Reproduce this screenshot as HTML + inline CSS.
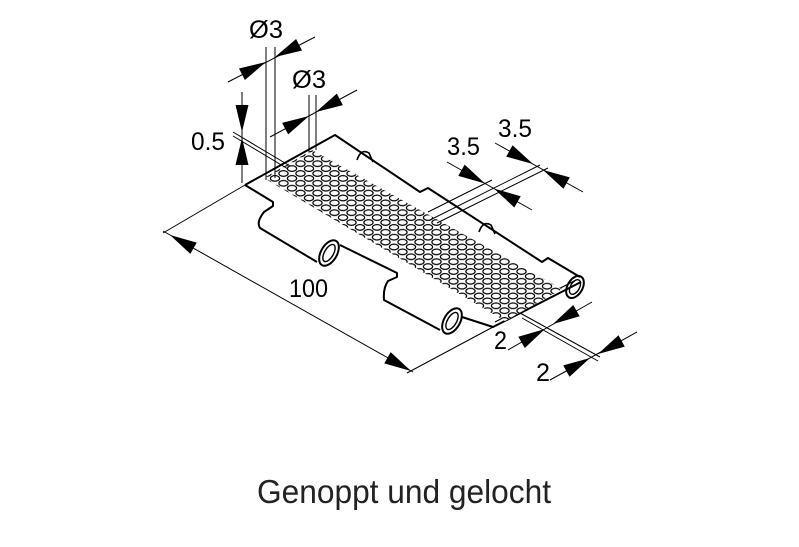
<!DOCTYPE html>
<html><head><meta charset="utf-8"><style>html,body{margin:0;padding:0;background:#fff}svg{display:block}</style></head>
<body>
<svg width="799" height="547" viewBox="0 0 799 547" xmlns="http://www.w3.org/2000/svg">
<defs>
<path id="ar" d="M0 0 L-27 -6.5 L-27 6.5Z" fill="#000"/>
<pattern id="holes" patternUnits="userSpaceOnUse" width="17" height="9.8" x="3" y="2">
<rect width="17" height="9.8" fill="#fff"/>
<g fill="#fff" stroke="#000" stroke-width="1.2">
<ellipse cx="0" cy="0" rx="4.6" ry="2.8"/>
<ellipse cx="17" cy="0" rx="4.6" ry="2.8"/>
<ellipse cx="0" cy="9.8" rx="4.6" ry="2.8"/>
<ellipse cx="17" cy="9.8" rx="4.6" ry="2.8"/>
<ellipse cx="8.5" cy="4.9" rx="4.6" ry="2.8"/>
</g>
</pattern>
</defs>
<g fill="none" stroke="#000" stroke-width="2" stroke-linejoin="round">
<path d="M245 185 L335 135 L420 192 L428 188 L542 262 L548 258 L580 277 M245 185 L273 202 L273 206 L264 212 Q256 222 260 228 L317 262 M340 245 L397 273 L397 277 L388 281 Q383 288 384 300 L440 330 M462 317 L493 327 L581 282"/>
<path d="M495 322 L576 280" stroke-width="1.2"/>
<ellipse cx="329" cy="253" rx="8" ry="14" transform="rotate(30 329 253)"/>
<ellipse cx="329" cy="253" rx="4.5" ry="9.5" transform="rotate(30 329 253)" stroke-width="1.4"/>
<ellipse cx="452" cy="321" rx="8" ry="14" transform="rotate(30 452 321)"/>
<ellipse cx="452" cy="321" rx="4.5" ry="9.5" transform="rotate(30 452 321)" stroke-width="1.4"/>
<ellipse cx="575" cy="287" rx="7.5" ry="12" transform="rotate(30 575 287)"/>
<ellipse cx="575" cy="287" rx="4.5" ry="8" transform="rotate(30 575 287)" stroke-width="1.4"/>
<path d="M357 160 Q361 148 369 153 L373 162" stroke-width="1.6"/>
<path d="M479 232 Q483 220 491 225 L495 234" stroke-width="1.6"/>
</g>
<polygon points="264,178 312,150 562,289 505,321" fill="url(#holes)"/>
<g stroke="#000" stroke-width="1" fill="none">
<line x1="266" y1="47" x2="266" y2="180"/><line x1="275" y1="47" x2="275" y2="178"/>
<line x1="228" y1="82" x2="315" y2="37"/>
<line x1="309" y1="95" x2="309" y2="152"/><line x1="316" y1="95" x2="316" y2="150"/>
<line x1="270" y1="137" x2="357" y2="90"/>
<line x1="242" y1="92" x2="242" y2="183"/>
<line x1="233" y1="132" x2="290" y2="166"/><line x1="233" y1="136" x2="288" y2="169"/>
<line x1="163" y1="231" x2="413" y2="372"/>
<line x1="245" y1="185" x2="163" y2="233"/>
<line x1="493" y1="327" x2="407" y2="373"/>
<line x1="447" y1="162" x2="532" y2="210"/>
<line x1="495" y1="143" x2="583" y2="192"/>
<line x1="428" y1="212" x2="492" y2="180"/>
<line x1="430" y1="220" x2="540" y2="165"/>
<line x1="437" y1="223" x2="548" y2="168"/>
<line x1="520" y1="313" x2="600" y2="357"/><line x1="522" y1="318" x2="598" y2="361"/>
<line x1="508" y1="350" x2="592" y2="302"/>
<line x1="550" y1="380" x2="637" y2="332"/>
</g>
<g>
<use href="#ar" transform="translate(266 62) rotate(-27)"/>
<use href="#ar" transform="translate(275 57) rotate(153)"/>
<use href="#ar" transform="translate(309 116) rotate(-28)"/>
<use href="#ar" transform="translate(316 112) rotate(152)"/>
<use href="#ar" transform="translate(242 132) rotate(90)"/>
<use href="#ar" transform="translate(242 138) rotate(-90)"/>
<use href="#ar" transform="translate(170 235) rotate(209.4)"/>
<use href="#ar" transform="translate(411 371) rotate(29.4)"/>
<use href="#ar" transform="translate(485 183.5) rotate(29.4)"/>
<use href="#ar" transform="translate(494 188.6) rotate(209.4)"/>
<use href="#ar" transform="translate(533 164) rotate(29)"/>
<use href="#ar" transform="translate(543 170) rotate(209)"/>
<use href="#ar" transform="translate(545 329) rotate(-29.7)"/>
<use href="#ar" transform="translate(553 324) rotate(150.3)"/>
<use href="#ar" transform="translate(590 358) rotate(-29)"/>
<use href="#ar" transform="translate(598 354) rotate(151)"/>
</g>
<g font-family="'Liberation Sans Narrow','Liberation Sans',sans-serif" font-size="25" fill="#000" lengthAdjust="spacingAndGlyphs">
<text x="249" y="38" textLength="34" lengthAdjust="spacingAndGlyphs">Ø3</text>
<text x="292" y="88" textLength="34" lengthAdjust="spacingAndGlyphs">Ø3</text>
<text x="191" y="150" textLength="34" lengthAdjust="spacingAndGlyphs">0.5</text>
<text x="289" y="297" textLength="39" lengthAdjust="spacingAndGlyphs">100</text>
<text x="447" y="155" textLength="33" lengthAdjust="spacingAndGlyphs">3.5</text>
<text x="498" y="137" textLength="34" lengthAdjust="spacingAndGlyphs">3.5</text>
<text x="494" y="349" textLength="13" lengthAdjust="spacingAndGlyphs">2</text>
<text x="536" y="381" textLength="14" lengthAdjust="spacingAndGlyphs">2</text>
<text x="257" y="503" font-size="33" textLength="294" lengthAdjust="spacingAndGlyphs" fill="#222">Genoppt und gelocht</text>
</g>
</svg>
</body></html>
